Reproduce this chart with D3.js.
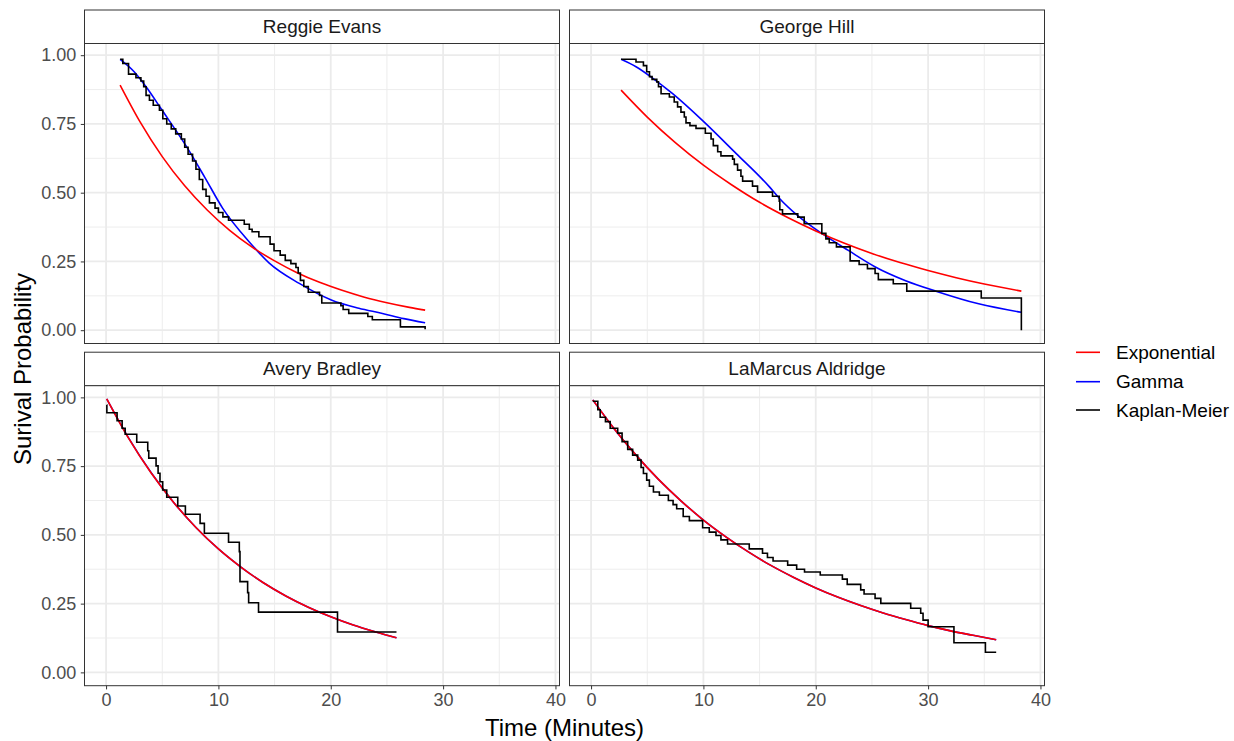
<!DOCTYPE html>
<html>
<head>
<meta charset="utf-8">
<script src="https://cdn.jsdelivr.net/npm/d3@7"></script>
<style>
  html, body { margin: 0; padding: 0; background: #ffffff; }
  svg { display: block; font-family: "Liberation Sans", Arial, sans-serif; }
</style>
</head>
<body>
<svg id="chart" width="1234" height="741"></svg>
<script>
// ---------------- data ----------------
const players = ["Reggie Evans", "George Hill", "Avery Bradley", "LaMarcus Aldridge"];
const seriesNames = ["Exponential", "Gamma", "Kaplan-Meier"];
const seriesColors = ["#FF0000", "#0000FF", "#000000"];
const xTicks = [0, 10, 20, 30, 40];
const yTicks = [0, 0.25, 0.5, 0.75, 1];
const yTickLabels = ["0.00", "0.25", "0.50", "0.75", "1.00"];

// Reggie Evans
const reggieKmT = [1.25,1.49,2.0,2.66,3.1,3.35,3.56,3.86,4.2,4.75,5.05,5.4,5.8,6.2,6.7,7.0,7.3,7.7,8.0,8.3,8.6,8.9,9.2,9.7,10.0,10.4,10.9,12.3,12.75,13.0,13.6,14.6,14.95,15.5,15.95,16.45,16.9,17.1,17.3,17.6,18.0,19.0,19.2,20.9,21.1,21.6,23.3,23.7,26.2,28.4];
const reggieKmS = [0.985,0.97,0.931,0.918,0.906,0.885,0.854,0.836,0.818,0.80,0.769,0.75,0.732,0.714,0.695,0.665,0.64,0.615,0.585,0.548,0.512,0.487,0.463,0.444,0.428,0.412,0.40,0.385,0.367,0.358,0.34,0.313,0.289,0.273,0.254,0.242,0.228,0.208,0.181,0.159,0.138,0.126,0.099,0.089,0.075,0.061,0.05,0.038,0.012,0.003];
const reggieExpT = [1.25,3,5,7,9,11,13,15,17,19,21,23,25,27,28.4];
const reggieExpS = [0.891,0.759,0.631,0.525,0.437,0.363,0.302,0.252,0.209,0.174,0.145,0.120,0.100,0.083,0.073];
const reggieGamT = [1.25,2.5,3.56,4.9,7.12,8.8,10.37,12.75,14.5,17.2,20.1,22.5,24.6,26.5,28.4];
const reggieGamS = [0.985,0.94,0.885,0.805,0.67,0.555,0.444,0.321,0.245,0.170,0.109,0.08,0.061,0.042,0.027];

// George Hill
const georgeKmT = [2.67,4.0,4.66,4.95,5.2,5.43,5.85,6.0,6.23,6.97,7.4,7.7,8.0,8.3,8.45,8.8,9.34,10.17,10.68,10.88,11.27,11.56,12.6,12.75,13.04,13.34,13.49,14.37,14.82,16.15,16.75,16.8,17.04,18.4,18.97,20.54,20.9,21.2,21.84,23.06,23.86,24.6,25.28,25.57,26.9,28.1,34.73,38.3];
const georgeKmS = [0.985,0.975,0.962,0.94,0.922,0.912,0.903,0.885,0.86,0.848,0.83,0.812,0.793,0.775,0.754,0.744,0.734,0.716,0.695,0.671,0.649,0.634,0.622,0.603,0.582,0.56,0.542,0.524,0.502,0.487,0.469,0.438,0.423,0.411,0.387,0.352,0.332,0.318,0.303,0.252,0.239,0.224,0.206,0.184,0.169,0.142,0.117,0.0];
const georgeExpT = [2.67,5,7.5,10,12.5,15,17.5,20,22.5,25,27.5,30,32.5,35,38.3];
const georgeExpS = [0.873,0.775,0.682,0.600,0.529,0.465,0.410,0.361,0.317,0.279,0.246,0.217,0.191,0.168,0.142];
const georgeGamT = [2.67,4.0,5.5,7.26,9.93,12.9,15.86,16.75,18.5,20.6,22.9,25.3,28.0,30.7,34.5,38.3];
const georgeGamS = [0.985,0.958,0.916,0.86,0.762,0.643,0.522,0.48,0.413,0.35,0.29,0.23,0.18,0.142,0.096,0.065];

// Avery Bradley
const averyKmT = [0.06,0.07,0.98,1.43,1.7,2.73,3.71,3.8,4.45,4.63,4.8,5.04,5.4,6.38,7.06,8.37,8.75,10.9,11.86,11.92,12.6,12.69,13.57,20.6,25.85];
const averyKmS = [0.972,0.944,0.915,0.888,0.866,0.837,0.806,0.779,0.751,0.724,0.693,0.663,0.637,0.605,0.575,0.542,0.506,0.473,0.439,0.330,0.290,0.253,0.219,0.147,0.147];
const averyExpT = [0.06,2,4,6,8,10,12,14,16,18,20,22,24,25.85];
const averyExpS = [0.995,0.852,0.726,0.619,0.527,0.449,0.383,0.326,0.278,0.237,0.202,0.172,0.147,0.126];
const averyGamT = [0.06,2,4,6,8,10,12,14,16,18,20,22,24,25.85];
const averyGamS = [0.995,0.853,0.727,0.619,0.527,0.449,0.383,0.326,0.278,0.237,0.202,0.172,0.147,0.126];

// LaMarcus Aldridge
const lamarcusKmT = [0.15,0.6,0.81,1.28,1.7,2.37,2.76,3.26,3.7,4.15,4.45,4.66,4.95,5.19,5.55,6.08,6.88,7.3,7.62,8.2,8.75,9.93,10.52,11.12,11.56,12.15,14.08,15.26,15.7,16.2,17.5,18.3,19.0,20.4,22.37,22.8,24.0,24.3,25.28,25.79,28.45,29.34,29.55,30.0,32.3,35.1,36.06];
const lamarcusKmS = [0.986,0.955,0.928,0.912,0.888,0.87,0.839,0.811,0.79,0.772,0.745,0.723,0.699,0.677,0.656,0.644,0.625,0.610,0.595,0.567,0.552,0.526,0.51,0.498,0.482,0.467,0.449,0.433,0.418,0.405,0.39,0.375,0.365,0.354,0.339,0.32,0.30,0.285,0.269,0.251,0.233,0.215,0.19,0.166,0.108,0.073,0.073];
const lamarcusExpT = [0.15,2,4,6,8,10,12,14,16,18,20,22,24,26,28,30,32,34,36.06];
const lamarcusExpS = [0.991,0.889,0.790,0.702,0.624,0.554,0.493,0.438,0.389,0.346,0.307,0.273,0.243,0.216,0.192,0.170,0.151,0.135,0.119];
const lamarcusGamT = [0.15,2,4,6,8,10,12,14,16,18,20,22,24,26,28,30,32,34,36.06];
const lamarcusGamS = [0.991,0.889,0.790,0.702,0.624,0.554,0.493,0.438,0.389,0.346,0.307,0.273,0.243,0.216,0.192,0.170,0.151,0.135,0.119];

// ---------------- build ----------------
const zip = (t, s) => t.map((v, i) => ({ t: v, s: s[i] }));
const panelData = [
  { name: players[0], km: zip(reggieKmT, reggieKmS), exp: zip(reggieExpT, reggieExpS), gam: zip(reggieGamT, reggieGamS) },
  { name: players[1], km: zip(georgeKmT, georgeKmS), exp: zip(georgeExpT, georgeExpS), gam: zip(georgeGamT, georgeGamS) },
  { name: players[2], km: zip(averyKmT, averyKmS), exp: zip(averyExpT, averyExpS), gam: zip(averyGamT, averyGamS) },
  { name: players[3], km: zip(lamarcusKmT, lamarcusKmS), exp: zip(lamarcusExpT, lamarcusExpS), gam: zip(lamarcusGamT, lamarcusGamS) }
];

const svg = d3.select("#chart");
const colX = [84.5, 569.5];
const stripTop = [10, 352.2];
const stripH = 33.5;
const pW = 475, pH = 300;

const x = d3.scaleLinear().domain([-1.92, 40.36]).range([0, pW]);
const y = d3.scaleLinear().domain([-0.0484, 1.0425]).range([pH, 0]);

const xMinor = [5, 15, 25, 35];
const yMinor = [0.125, 0.375, 0.625, 0.875];

const stepLine = d3.line().x(d => x(d.t)).y(d => y(d.s)).curve(d3.curveStepAfter);
const smoothLine = d3.line().x(d => x(d.t)).y(d => y(d.s)).curve(d3.curveMonotoneX);

panelData.forEach((p, i) => {
  const col = i % 2, row = Math.floor(i / 2);
  const px = colX[col], sy = stripTop[row], py = sy + stripH;

  // strip
  svg.append("rect").attr("x", px).attr("y", sy).attr("width", pW).attr("height", stripH)
    .attr("fill", "#ffffff").attr("stroke", "#333333").attr("stroke-width", 1);
  svg.append("text").attr("x", px + pW / 2).attr("y", sy + stripH / 2)
    .attr("text-anchor", "middle").attr("dominant-baseline", "central")
    .attr("font-size", "19px").attr("fill", "#1A1A1A").text(p.name);

  const g = svg.append("g").attr("transform", `translate(${px},${py})`);
  g.append("rect").attr("width", pW).attr("height", pH).attr("fill", "#ffffff");

  // grid
  g.selectAll(".xmin").data(xMinor).enter().append("line")
    .attr("x1", d => x(d)).attr("x2", d => x(d)).attr("y1", 0).attr("y2", pH)
    .attr("stroke", "#EBEBEB").attr("stroke-width", 0.9);
  g.selectAll(".ymin").data(yMinor).enter().append("line")
    .attr("y1", d => y(d)).attr("y2", d => y(d)).attr("x1", 0).attr("x2", pW)
    .attr("stroke", "#EBEBEB").attr("stroke-width", 0.9);
  g.selectAll(".xmaj").data(xTicks).enter().append("line")
    .attr("x1", d => x(d)).attr("x2", d => x(d)).attr("y1", 0).attr("y2", pH)
    .attr("stroke", "#EBEBEB").attr("stroke-width", 1.8);
  g.selectAll(".ymaj").data(yTicks).enter().append("line")
    .attr("y1", d => y(d)).attr("y2", d => y(d)).attr("x1", 0).attr("x2", pW)
    .attr("stroke", "#EBEBEB").attr("stroke-width", 1.8);

  // series
  g.append("path").datum(p.gam).attr("d", smoothLine).attr("fill", "none")
    .attr("stroke", seriesColors[1]).attr("stroke-width", 1.6);
  g.append("path").datum(p.exp).attr("d", smoothLine).attr("fill", "none")
    .attr("stroke", seriesColors[0]).attr("stroke-width", 1.6);
  g.append("path").datum(p.km).attr("d", stepLine).attr("fill", "none")
    .attr("stroke", seriesColors[2]).attr("stroke-width", 1.6);

  // border
  g.append("rect").attr("width", pW).attr("height", pH).attr("fill", "none")
    .attr("stroke", "#333333").attr("stroke-width", 1);

  // axes
  if (col === 0) {
    const ya = d3.axisLeft(y).tickValues(yTicks).tickFormat((d, k) => yTickLabels[k])
      .tickSize(3.7).tickPadding(4.5);
    const ag = g.append("g").call(ya);
    ag.select(".domain").remove();
    ag.selectAll("line").attr("stroke", "#333333").attr("stroke-width", 1);
    ag.selectAll("text").attr("font-size", "18px").attr("fill", "#4D4D4D")
      .attr("font-family", "Liberation Sans, Arial, sans-serif");
  }
  if (row === 1) {
    const xa = d3.axisBottom(x).tickValues(xTicks).tickFormat(d3.format("d"))
      .tickSize(3.7).tickPadding(4);
    const ag = g.append("g").attr("transform", `translate(0,${pH})`).call(xa);
    ag.select(".domain").remove();
    ag.selectAll("line").attr("stroke", "#333333").attr("stroke-width", 1);
    ag.selectAll("text").attr("font-size", "18px").attr("fill", "#4D4D4D")
      .attr("font-family", "Liberation Sans, Arial, sans-serif");
  }
});

// axis titles
svg.append("text").attr("x", (colX[0] + colX[1] + pW) / 2).attr("y", 727)
  .attr("text-anchor", "middle").attr("dominant-baseline", "central")
  .attr("font-size", "24px").attr("fill", "#000000").text("Time (Minutes)");
svg.append("text").attr("transform", "translate(22,369) rotate(-90)")
  .attr("text-anchor", "middle").attr("dominant-baseline", "central")
  .attr("font-size", "24px").attr("fill", "#000000").text("Surival Probability");

// legend
const legY = [352.3, 381.7, 410];
seriesNames.forEach((n, k) => {
  svg.append("line").attr("x1", 1076).attr("x2", 1100).attr("y1", legY[k]).attr("y2", legY[k])
    .attr("stroke", seriesColors[k]).attr("stroke-width", 1.6);
  svg.append("text").attr("x", 1116).attr("y", legY[k]).attr("dominant-baseline", "central")
    .attr("font-size", "19px").attr("fill", "#000000").text(n);
});
</script>
</body>
</html>
